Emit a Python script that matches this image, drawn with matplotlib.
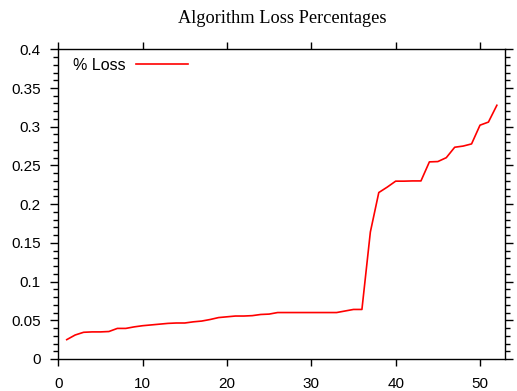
import matplotlib
matplotlib.use("Agg")
import matplotlib.pyplot as plt
from matplotlib.ticker import MultipleLocator

x_vals = list(range(1, 53))
loss = [0.025, 0.031, 0.0345, 0.035, 0.035, 0.0355, 0.0395, 0.0395, 0.0415, 0.043,
        0.044, 0.045, 0.046, 0.0465, 0.0465, 0.048, 0.049, 0.051, 0.0535, 0.0545,
        0.0555, 0.0555, 0.056, 0.0575, 0.058, 0.060, 0.060, 0.060, 0.060, 0.060,
        0.060, 0.060, 0.060, 0.062, 0.064, 0.064, 0.164, 0.215, 0.222, 0.2297,
        0.2297, 0.230, 0.230, 0.2546, 0.255, 0.260, 0.2735, 0.275, 0.2778, 0.302,
        0.306, 0.3277]
y_ticks = [0, 0.05, 0.1, 0.15, 0.2, 0.25, 0.3, 0.35, 0.4]
y_labels = ["0", "0.05", "0.1", "0.15", "0.2", "0.25", "0.3", "0.35", "0.4"]
x_ticks = [0, 10, 20, 30, 40, 50]

W, H = 517, 391
L, R, T, B = 58.3, 505.3, 49.3, 359.0
fig = plt.figure(figsize=(W/100, H/100), dpi=100)
ax = fig.add_axes([L/W, 1-B/H, (R-L)/W, (B-T)/H])

ax.plot(x_vals, loss, color="#ff0000", lw=1.2, label="% Loss")
ax.set_xlim(0, 53)
ax.set_ylim(0, 0.4)
ax.set_xticks(x_ticks)
ax.set_xticklabels([str(t) for t in x_ticks])
ax.set_yticks(y_ticks)
ax.set_yticklabels(y_labels)
ax.yaxis.set_minor_locator(MultipleLocator(0.01))

for s in ax.spines.values():
    s.set_linewidth(1.0)
ax.tick_params(which="both", direction="out", top=True, right=True,
               labelsize=11, width=1.0)
ax.tick_params(which="major", length=5.2)
ax.tick_params(which="minor", length=3.4)
ax.tick_params(axis="y", which="major", pad=7, length=5.8)
ax.tick_params(axis="x", which="major", pad=7.5)
for lab in ax.get_xticklabels() + ax.get_yticklabels():
    lab.set_family("Liberation Sans")

leg = ax.legend(loc="center left", frameon=False, markerfirst=False,
                handlelength=3.3, handletextpad=0.6,
                prop={"family": "Liberation Sans", "size": 11.5},
                borderaxespad=0, borderpad=0,
                bbox_to_anchor=((73.3-L)/(R-L), 1-(65-T)/(B-T)),
                bbox_transform=ax.transAxes)

fig.text((L+R)/2/W, 1-18.5/H, "Algorithm Loss Percentages", ha="center", va="center",
         family="Liberation Serif", fontsize=13.2)

fig.savefig("out.png", dpi=100)
